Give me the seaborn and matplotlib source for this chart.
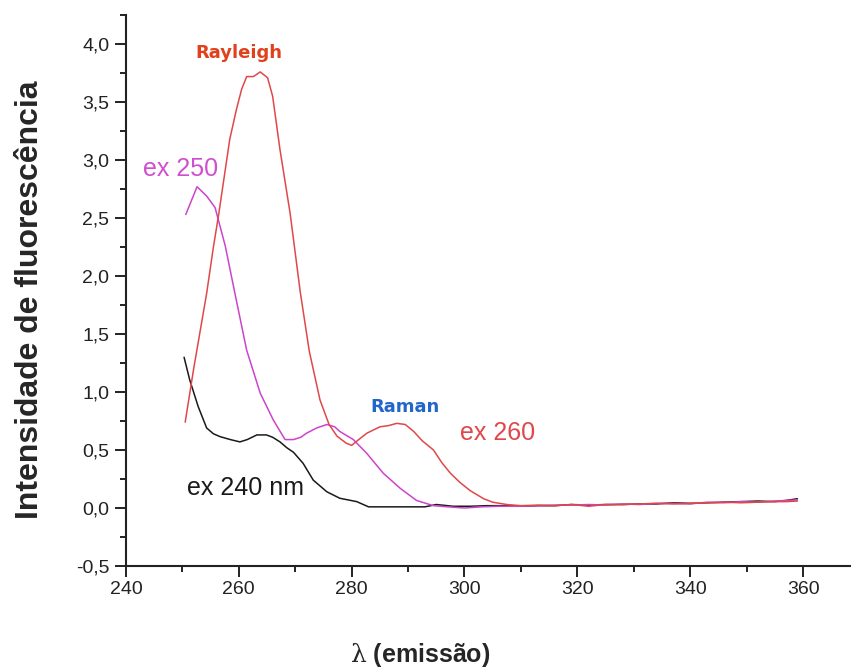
import numpy as np
import pandas as pd
import matplotlib
matplotlib.use("Agg")
import matplotlib.pyplot as plt
from matplotlib.ticker import MultipleLocator, FuncFormatter
import seaborn as sns

# baseline region (shared wavelengths)
base_wl = [310, 313, 316, 319, 322, 325, 328, 331, 334, 337, 340, 343, 346, 349, 352, 355, 357, 359]

# ex 260 (red)
wl_260 = [250.5, 252, 254.3, 255.5, 256.4, 258.4, 259.6, 260.5, 261.4, 262.6, 263.8, 265.1, 266,
          267.3, 269.1, 270.9, 272.5, 274.4, 276, 277.4, 279, 280, 281, 282.7, 285, 286.5, 288,
          289.5, 291, 292.5, 294.5, 296, 297.5, 299.2, 301, 303.4, 305, 307.5]
int_260 = [0.74, 1.2, 1.85, 2.25, 2.52, 3.18, 3.44, 3.61, 3.72, 3.72, 3.76, 3.71, 3.55,
           3.09, 2.54, 1.86, 1.35, 0.93, 0.72, 0.62, 0.56, 0.54, 0.58, 0.645, 0.70, 0.71, 0.73,
           0.72, 0.66, 0.58, 0.50, 0.39, 0.30, 0.22, 0.15, 0.08, 0.05, 0.03]
base_260 = [0.02, 0.025, 0.02, 0.03, 0.015, 0.03, 0.03, 0.035, 0.04, 0.035, 0.04, 0.045,
            0.05, 0.045, 0.05, 0.055, 0.055, 0.06]

# ex 250 (magenta)
wl_250 = [250.6, 252.6, 254.3, 255.8, 257.6, 259.4, 261.4, 263.8, 266.1, 268.2, 269.7, 271,
          272, 273.8, 275.6, 277, 277.9, 280.3, 282.7, 285.6, 288.6, 291.5, 294.5, 297, 300,
          303, 306]
int_250 = [2.53, 2.77, 2.69, 2.59, 2.26, 1.83, 1.36, 0.99, 0.76, 0.59, 0.59, 0.61,
           0.645, 0.69, 0.72, 0.70, 0.66, 0.59, 0.47, 0.30, 0.17, 0.065, 0.02, 0.01, 0.0,
           0.01, 0.015]
base_250 = [0.015, 0.02, 0.025, 0.025, 0.03, 0.025, 0.035, 0.03, 0.04, 0.04, 0.035, 0.05,
            0.045, 0.055, 0.05, 0.06, 0.065, 0.07]

# ex 240 nm (black)
wl_240 = [250.3, 251.3, 252.8, 254.3, 255.5, 256.7, 258.5, 260.2, 261.5, 263.2, 264.9, 266,
          267.3, 268.5, 269.7, 271.4, 273.2, 275.6, 277.9, 280.9, 283, 286, 290, 293, 295,
          298, 301, 304, 307]
int_240 = [1.30, 1.105, 0.875, 0.69, 0.64, 0.615, 0.59, 0.57, 0.59, 0.63, 0.63, 0.61,
           0.57, 0.52, 0.48, 0.385, 0.24, 0.14, 0.084, 0.055, 0.01, 0.01, 0.01, 0.01, 0.03,
           0.015, 0.015, 0.02, 0.02]
base_240 = [0.015, 0.02, 0.02, 0.03, 0.025, 0.03, 0.03, 0.035, 0.035, 0.045, 0.04, 0.045,
            0.05, 0.055, 0.06, 0.055, 0.065, 0.08]

sns.set_style("ticks")
plt.rcParams['font.family'] = ['Liberation Sans', 'DejaVu Sans']
plt.rcParams['mathtext.fontset'] = 'dejavuserif'

fig = plt.figure(figsize=(8.51, 6.71), dpi=100)
ax = fig.add_axes([0.148, 0.1565, 0.852, 0.821])

series = [
    (wl_240, int_240, base_240, "#1a1a1a"),
    (wl_250, int_250, base_250, "#cc44cc"),
    (wl_260, int_260, base_260, "#e04848"),
]
for wl, val, base, col in series:
    df = pd.DataFrame({"wl": wl + base_wl, "val": val + base})
    sns.lineplot(data=df, x="wl", y="val", color=col, linewidth=1.1, estimator=None, ax=ax)

ax.set_xlim(240, 368.5)
ax.set_ylim(-0.5, 4.25)
ax.xaxis.set_major_locator(MultipleLocator(20))
ax.xaxis.set_minor_locator(MultipleLocator(10))
ax.yaxis.set_major_locator(MultipleLocator(0.5))
ax.yaxis.set_minor_locator(MultipleLocator(0.25))
ax.yaxis.set_major_formatter(FuncFormatter(lambda v, p: f"{v:.1f}".replace('.', ',')))
ax.tick_params(which='major', length=8, width=1.4, labelsize=14, colors='#222222')
ax.tick_params(axis='y', which='major', pad=4)
ax.tick_params(axis='x', which='major', pad=3)
ax.tick_params(which='minor', length=4.5, width=1.4, colors='#222222')
sns.despine(ax=ax)
for s in ['left', 'bottom']:
    ax.spines[s].set_linewidth(1.5)
    ax.spines[s].set_color('#222222')

ax.set_xlabel(r"$\mathrm{\lambda}$ (emissão)", fontsize=18, fontweight='bold')
ax.set_ylabel("Intensidade de fluorescência", fontsize=23, fontweight='bold')
ax.xaxis.set_label_coords(0.406, -0.136)
ax.yaxis.set_label_coords(-0.112, 0.483)

ax.text(260.0, 3.92, "Rayleigh", color="#e0401c", fontsize=13, fontweight='heavy',
        family='DejaVu Sans', ha='center', va='center')
ax.text(289.5, 0.87, "Raman", color="#2266cc", fontsize=13, fontweight='heavy',
        family='DejaVu Sans', ha='center', va='center')
ax.text(249.6, 2.92, "ex 250", color="#d04fd0", fontsize=18, ha='center', va='center')
ax.text(305.8, 0.65, "ex 260", color="#e0474b", fontsize=18, ha='center', va='center')
ax.text(261.1, 0.17, "ex 240 nm", color="#1a1a1a", fontsize=18, ha='center', va='center')

fig.savefig("out.png", dpi=100, facecolor='white')
